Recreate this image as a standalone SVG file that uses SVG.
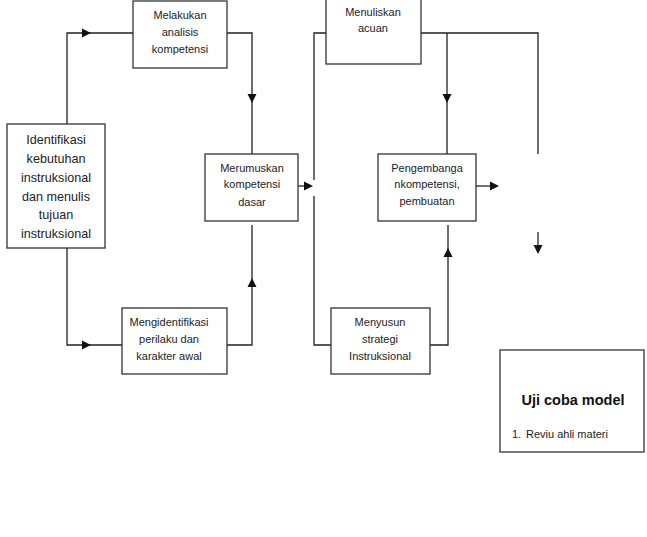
<svg xmlns="http://www.w3.org/2000/svg" width="647" height="537" viewBox="0 0 647 537">
<style>
.box{fill:#fff;stroke:#333;stroke-width:1.3}
.ln{fill:none;stroke:#222;stroke-width:1.3}
.ah{fill:#111}
text{font-family:"Liberation Sans",Arial,sans-serif;fill:#222;text-anchor:middle}
.s11{font-size:11px}
.s12{font-size:12.6px}
.t{font-size:14.5px;font-weight:bold;fill:#111}
.l{text-anchor:start;font-size:11px}
</style>
<defs>
<path id="ah" class="ah" d="M0,0 L-9,-4.5 L-9,4.5 Z"/>
</defs>
<rect width="647" height="537" fill="#fff"/>
<g id="connectors">
<polyline class="ln" points="67,124 67,33 133,33"/>
<polyline class="ln" points="67,248 67,345 122,345"/>
<polyline class="ln" points="227,33 252,33 252,154"/>
<polyline class="ln" points="227,345 252,345 252,225"/>
<line class="ln" x1="298" y1="186" x2="305" y2="186"/>
<polyline class="ln" points="326,33 314,33 314,180"/>
<polyline class="ln" points="314,196 314,345 331,345"/>
<polyline class="ln" points="421,33 538,33 538,154"/>
<line class="ln" x1="447" y1="33" x2="447" y2="154"/>
<line class="ln" x1="476" y1="186" x2="491" y2="186"/>
<line class="ln" x1="538" y1="232" x2="538" y2="246"/>
<polyline class="ln" points="430,345 448,345 448,225"/>
<use href="#ah" transform="translate(91,33)"/>
<use href="#ah" transform="translate(91,345)"/>
<use href="#ah" transform="translate(252,103) rotate(90)"/>
<use href="#ah" transform="translate(252,278) rotate(-90)"/>
<use href="#ah" transform="translate(313,186)"/>
<use href="#ah" transform="translate(447,103) rotate(90)"/>
<use href="#ah" transform="translate(499,186)"/>
<use href="#ah" transform="translate(538,254) rotate(90)"/>
<use href="#ah" transform="translate(448,248) rotate(-90)"/>
</g>
<g id="identifikasi">
<rect class="box" x="7" y="124" width="98" height="124"/>
<text class="s12" x="56" y="144">Identifikasi</text>
<text class="s12" x="56" y="163">kebutuhan</text>
<text class="s12" x="56" y="182">instruksional</text>
<text class="s12" x="56" y="201">dan menulis</text>
<text class="s12" x="56" y="219">tujuan</text>
<text class="s12" x="56" y="238">instruksional</text>
</g>
<g id="melakukan">
<rect class="box" x="133" y="1" width="94" height="67"/>
<text class="s11" x="180" y="19">Melakukan</text>
<text class="s11" x="180" y="36">analisis</text>
<text class="s11" x="180" y="53">kompetensi</text>
</g>
<g id="merumuskan">
<rect class="box" x="205" y="154" width="93" height="67"/>
<text class="s11" x="252" y="172">Merumuskan</text>
<text class="s11" x="252" y="188">kompetensi</text>
<text class="s11" x="252" y="206">dasar</text>
</g>
<g id="mengidentifikasi">
<rect class="box" x="122" y="308" width="105" height="66"/>
<text class="s11" x="169" y="326">Mengidentifikasi</text>
<text class="s11" x="169" y="343">perilaku dan</text>
<text class="s11" x="169" y="360">karakter awal</text>
</g>
<g id="menuliskan">
<rect class="box" x="326" y="-1" width="95" height="65"/>
<text class="s11" x="373" y="16">Menuliskan</text>
<text class="s11" x="373" y="32">acuan</text>
</g>
<g id="pengembangan">
<rect class="box" x="378" y="154" width="98" height="67"/>
<text class="s11" x="427" y="172">Pengembanga</text>
<text class="s11" x="427" y="188">nkompetensi,</text>
<text class="s11" x="427" y="205">pembuatan</text>
</g>
<g id="menyusun">
<rect class="box" x="331" y="308" width="99" height="66"/>
<text class="s11" x="380" y="326">Menyusun</text>
<text class="s11" x="380" y="343">strategi</text>
<text class="s11" x="380" y="360">Instruksional</text>
</g>
<g id="ujicoba">
<rect class="box" x="500" y="350" width="144" height="102"/>
<text class="t" x="573" y="405">Uji coba model</text>
<text class="l" x="512" y="438">1.</text>
<text class="l" x="526" y="438">Reviu ahli materi</text>
</g>
</svg>
